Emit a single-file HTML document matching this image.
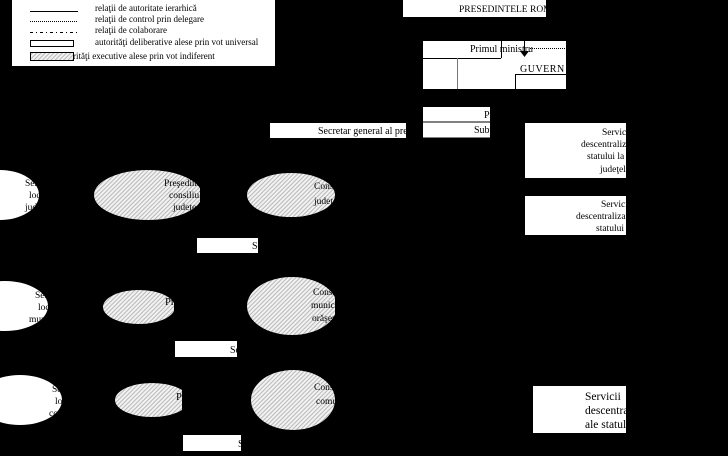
<!DOCTYPE html>
<html><head><meta charset="utf-8"><style>
html,body{margin:0;padding:0;background:#000;}
svg{display:block;font-family:"Liberation Serif",serif;}
</style></head><body>
<svg width="728" height="456" viewBox="0 0 728 456" xmlns="http://www.w3.org/2000/svg">
<defs>
<pattern id="h" width="3" height="3" patternUnits="userSpaceOnUse" patternTransform="rotate(45)">
<rect width="3" height="3" fill="#f2f2f2"/><rect width="1" height="3" fill="#b8b8b8"/>
</pattern>
<clipPath id="e1"><ellipse cx="0" cy="195" rx="39" ry="25"/></clipPath>
<clipPath id="e2"><rect x="94" y="160" width="106" height="70"/></clipPath>
<clipPath id="e3"><rect x="240" y="160" width="95" height="70"/></clipPath>
<clipPath id="e4"><ellipse cx="5" cy="306" rx="43" ry="25"/></clipPath>
<clipPath id="e5"><rect x="100" y="285" width="74" height="45"/></clipPath>
<clipPath id="e6"><rect x="240" y="270" width="95" height="70"/></clipPath>
<clipPath id="e7"><ellipse cx="20" cy="400" rx="42" ry="25"/></clipPath>
<clipPath id="e8"><rect x="110" y="380" width="72" height="40"/></clipPath>
<clipPath id="e9"><rect x="240" y="365" width="95" height="70"/></clipPath>
<clipPath id="c1"><rect x="403" y="0" width="143" height="17"/></clipPath>
<clipPath id="c2"><rect x="270" y="123" width="136" height="15"/></clipPath>
<clipPath id="c3"><rect x="423" y="107" width="67" height="31"/></clipPath>
<clipPath id="c4"><rect x="525" y="123" width="101" height="113"/></clipPath>
<clipPath id="c5"><rect x="533" y="386" width="93" height="47"/></clipPath>
<clipPath id="c6"><rect x="175" y="238" width="84" height="220"/></clipPath>
</defs>
<rect width="728" height="456" fill="#000"/>

<rect x="12" y="0" width="263" height="66" fill="#fff"/>
<g stroke="#000" stroke-width="1" fill="none">
<line x1="30" y1="11.5" x2="78" y2="11.5"/>
<line x1="30" y1="21.5" x2="78" y2="21.5" stroke-dasharray="1,1"/>
<line x1="30" y1="32.5" x2="78" y2="32.5" stroke-dasharray="3,3,1,3"/>
<rect x="30.5" y="40.5" width="43" height="6"/>
<rect x="30.5" y="52.5" width="43" height="8" fill="url(#h)"/>
</g>
<g font-size="9" fill="#000">
<text x="95" y="11">relaţii de autoritate ierarhică</text>
<text x="95" y="22">relaţii de control prin delegare</text>
<text x="95" y="33">relaţii de colaborare</text>
<text x="95" y="45">autorităţi deliberative alese prin vot universal</text>
<text x="73" y="59">rităţi executive alese prin vot indiferent</text>
</g>

<rect x="403" y="0" width="143" height="17" fill="#fff"/>
<text x="459" y="12" font-size="9.5" clip-path="url(#c1)">PRESEDINTELE ROMÂNIEI</text>

<rect x="423" y="41" width="143" height="48" fill="#fff"/>
<g stroke="#000" fill="none" stroke-width="1">
<line x1="423" y1="58.5" x2="501" y2="58.5"/>
<line x1="501.5" y1="41" x2="501.5" y2="58"/>
<line x1="457.5" y1="58" x2="457.5" y2="89" stroke="#777"/>
<line x1="515.5" y1="74.5" x2="566" y2="74.5"/>
<line x1="515.5" y1="74" x2="515.5" y2="89"/>
<line x1="524.5" y1="41" x2="524.5" y2="52"/>
<line x1="530" y1="48.5" x2="566" y2="48.5" stroke-dasharray="1,1"/>
</g>
<polygon points="520,51 529,51 524.5,57" fill="#000"/>
<text x="470" y="52" font-size="10">Primul ministru</text>
<text x="520" y="72" font-size="10" letter-spacing="0.5">GUVERN</text>

<rect x="423" y="107" width="67" height="14.5" fill="#fff"/>
<rect x="423" y="122.5" width="67" height="15" fill="#fff"/>
<g clip-path="url(#c3)" font-size="10">
<text x="484" y="118">Prefect</text>
<text x="474" y="133">Subprefect</text>
</g>

<rect x="270" y="123" width="136" height="15" fill="#fff"/>
<text x="318" y="134" font-size="10" clip-path="url(#c2)">Secretar general al prefecturii</text>

<rect x="525" y="123" width="101" height="55" fill="#fff"/>
<rect x="525" y="196" width="101" height="39" fill="#fff"/>
<g clip-path="url(#c4)" font-size="9.5">
<text x="602" y="135">Servicii</text>
<text x="581" y="147">descentralizate ale</text>
<text x="587" y="159">statului la nivelul</text>
<text x="600" y="172">judeţelor</text>
<text x="601" y="207">Servicii</text>
<text x="576" y="219">descentralizate ale</text>
<text x="596" y="231">statului</text>
</g>
<rect x="533" y="386" width="93" height="47" fill="#fff"/>
<g clip-path="url(#c5)" font-size="11.5">
<text x="585" y="400">Servicii</text>
<text x="585" y="414">descentralizate</text>
<text x="585" y="428">ale statului</text>
</g>

<ellipse cx="0" cy="195" rx="39" ry="25" fill="#fff"/>
<g clip-path="url(#e1)" font-size="9.5">
<text x="25" y="186">Servicii</text><text x="29" y="198">locale</text><text x="25" y="210">judeţene</text>
</g>
<ellipse cx="148" cy="195" rx="54" ry="25" fill="url(#h)" clip-path="url(#e2)"/>
<g clip-path="url(#e2)" font-size="9.5">
<text x="164" y="186">Preşedintele</text><text x="169" y="198">consiliului</text><text x="173" y="210">judeţean</text>
</g>
<ellipse cx="291" cy="195" rx="44" ry="22" fill="url(#h)" clip-path="url(#e3)"/>
<g clip-path="url(#e3)" font-size="9.5">
<text x="314" y="189">Consiliul</text><text x="314" y="204">judeţean</text>
</g>
<rect x="197" y="238" width="61" height="15" fill="#fff"/>
<text x="252" y="249" font-size="10" clip-path="url(#c6)">Secretar</text>

<ellipse cx="5" cy="306" rx="43" ry="25" fill="#fff"/>
<g clip-path="url(#e4)" font-size="9.5">
<text x="35" y="298">Servicii</text><text x="38" y="310">locale</text><text x="29" y="322">municipale</text>
</g>
<ellipse cx="139" cy="307" rx="36" ry="17" fill="url(#h)" clip-path="url(#e5)"/>
<g clip-path="url(#e5)" font-size="10.5">
<text x="165" y="305">Primar</text>
</g>
<ellipse cx="292" cy="306" rx="45" ry="29" fill="url(#h)" clip-path="url(#e6)"/>
<g clip-path="url(#e6)" font-size="9.5">
<text x="313" y="295">Consiliul</text><text x="311" y="308">municipal</text><text x="312" y="321">orăşenesc</text>
</g>
<rect x="175" y="341" width="62" height="16" fill="#fff"/>
<text x="230" y="353" font-size="10" clip-path="url(#c6)">Secretar</text>

<ellipse cx="20" cy="400" rx="42" ry="25" fill="#fff"/>
<g clip-path="url(#e7)" font-size="9.5">
<text x="52" y="392">Servicii</text><text x="55" y="404">locale</text><text x="49" y="416">comunale</text>
</g>
<ellipse cx="152" cy="400" rx="37" ry="17" fill="url(#h)" clip-path="url(#e8)"/>
<g clip-path="url(#e8)" font-size="10.5">
<text x="176" y="400">Primar</text>
</g>
<ellipse cx="293" cy="400" rx="42" ry="30" fill="url(#h)" clip-path="url(#e9)"/>
<g clip-path="url(#e9)" font-size="9.5">
<text x="314" y="390">Consiliul</text><text x="316" y="404">comunal</text>
</g>
<rect x="183" y="435" width="58" height="16" fill="#fff"/>
<text x="238" y="447" font-size="10" clip-path="url(#c6)">Secretar</text>
</svg>
</body></html>
